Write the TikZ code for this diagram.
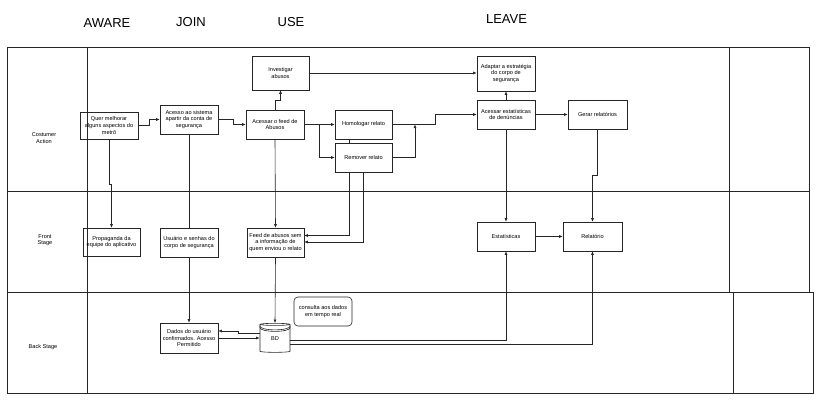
\documentclass[tikz,border=0pt]{standalone}
\usepackage{fontspec}
\setmainfont{Liberation Sans}
\usetikzlibrary{arrows.meta,shapes.geometric}

\begin{document}
\begin{tikzpicture}[x=1pt,y=1pt,
  box/.style={draw=black!85, line width=0.6pt, minimum width=58, minimum height=29, align=center, font=\fontsize{5.6}{6.6}\selectfont},
  lane/.style={align=center, font=\fontsize{5.6}{6.6}\selectfont},
  phase/.style={font=\fontsize{13}{15}\selectfont},
  line/.style={draw=black!85, line width=0.6pt},
  >={Latex[length=3.5pt,width=3pt]}]
\tikzstyle{every node}+=[inner sep=0pt]
\useasboundingbox (0,0) rectangle (820,-400);
\draw [line] (7,-47) rectangle (809,-292);
\draw [line] (7,-292) rectangle (813,-393);
\draw [line] (7,-191) -- (809,-191);
\draw [line] (87,-47) -- (87,-393);
\draw [line] (729,-47) -- (729,-292);
\draw [line] (733,-292) -- (733,-393);
\node [phase] (aware) at (107,-23.5) {AWARE};
\node [phase] (join) at (191,-21.7) {JOIN};
\node [phase] (use) at (291,-21.7) {USE};
\node [phase] (leave) at (506.5,-19.5) {LEAVE};
\node [lane] (action) at (44,-138) {Costumer\\Action};
\node [lane] (front) at (45,-240) {Front\\Stage};
\node [lane] (back) at (43,-347) {Back Stage};
\node [box, minimum height=27] (quer) at (109,-125.5) {Quer melhorar\\alguns aspectos do\\metrô};
\node [box] (acesso) at (189,-119.5) {Acesso ao sistema\\apartir da conta de\\segurança};
\node [box] (feed) at (275,-124.5) {Acessar o feed de\\Abusos};
\node [box, minimum width=57, minimum height=34] (invest) at (280.5,-73) {Investigar\\abusos};
\node [box, minimum width=57] (homol) at (363.5,-124.5) {Homologar relato};
\node [box, minimum width=57] (remover) at (363.5,-157.5) {Remover relato};
\node [box, minimum height=35] (adaptar) at (506,-73.5) {Adaptar a estratégia\\do corpo de\\segurança};
\node [box] (estat) at (506,-114.5) {Acessar estatísticas\\de denúncias};
\node [box, minimum width=59] (gerar) at (597.5,-114.5) {Gerar relatórios};
\node [box, minimum width=57, minimum height=28] (prop) at (111.5,-242) {Propaganda da\\equipe do aplicativo};
\node [box] (usuario) at (189,-242.5) {Usuário e senhas do\\corpo de segurança};
\node [box, minimum width=57] (feedsem) at (275.5,-242.5) {Feed de abusos sem\\a informação de\\quem enviou o relato};
\node [box] (estatisticas) at (506,-236.5) {Estatísticas};
\node [box, minimum width=59] (relatorio) at (592.5,-236.5) {Relatório};
\node [box, minimum height=30] (dados) at (189,-338) {Dados do usuário\\confirmados. Acesso\\Permitido};
\node [box, cylinder, shape border rotate=90, aspect=0.27, minimum width=30, minimum height=29] (bd) at (275,-338.5) {BD};
\node [box, rounded corners=4pt] (consulta) at (323,-311.5) {consulta aos dados\\em tempo real};
\draw [line] ([yshift=-1.5]bd.before top) .. controls +(0,-5.3) and +(0,-5.3) .. ([yshift=-1.5]bd.after top);
\draw [line] ([yshift=-3]bd.before top) .. controls +(0,-5.3) and +(0,-5.3) .. ([yshift=-3]bd.after top);
\draw [line,->] (quer.east) -- ++(11,0) |- (acesso.west);
\draw [line,->] (acesso.east) -- ++(15,0) |- (feed.west);
\draw [line,->] (quer.south) -- ++(0,-45) -| (prop.north);
\draw [line] (acesso.south) -- (usuario.north);
\draw [line,->] (usuario.south) -- (dados.north);
\draw [line,->] (feed.north) -- ++(0,9) -| (invest.south);
\draw [line,->] (invest.east) -- (invest.east -| adaptar.west);
\draw [line,->] (feed.east) -- (homol.west);
\draw [line,->] (feed.east) -- ++(15,0) |- (remover.west);
\draw [line] ([xshift=-14.5]homol.south) -- ([xshift=-14.5]remover.north);
\draw [line,->] (homol.east) -- ++(43,0) |- (estat.west);
\coordinate (join1) at (415,-124.5);
\draw [line,->] (remover.east) -| (join1);
\draw [line,->] ([xshift=-14.5]remover.south) |- ([yshift=7]feedsem.east);
\draw [line,->] (remover.south) |- ([yshift=0.5]feedsem.east);
\draw [line,->] (feed.south) -- (feedsem.north);
\draw [line,->] (feedsem.south) -- (bd.top);
\draw [line,->] ([yshift=5.5]bd.west) -- ++(-21,0) |- ([yshift=7]dados.east);
\draw [line,->] (dados.east) -- (dados.east -| bd.west);
\draw [line,->] ([yshift=-1.5]bd.east) -| (estatisticas.south);
\draw [line,->] ([yshift=-5.5]bd.east) -| (relatorio.south);
\draw [line,->] (estat.north) -- (adaptar.south);
\draw [line,->] (estat.east) -- (gerar.west);
\draw [line,->] (estat.south) -- (estatisticas.north);
\draw [line,->] (gerar.south) -- ++(0,-46) -| (relatorio.north);
\draw [line,->] (estatisticas.east) -- (relatorio.west);
\end{tikzpicture}
\end{document}
